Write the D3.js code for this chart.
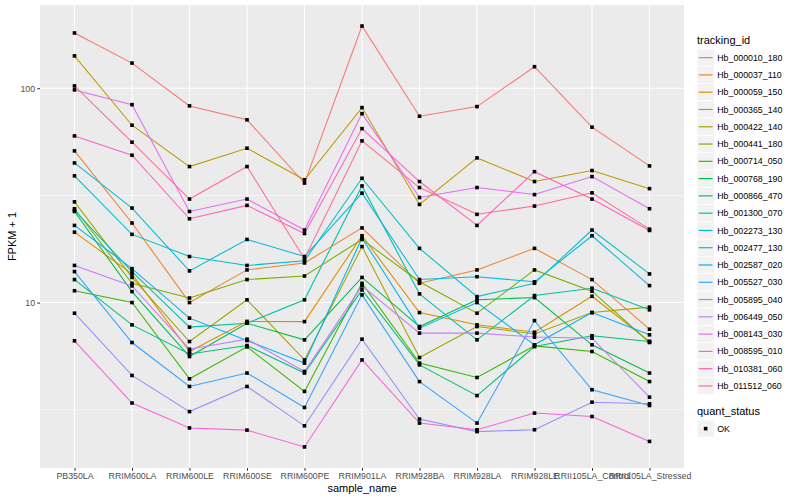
<!DOCTYPE html>
<html>
<head>
<meta charset="utf-8">
<script src="https://cdn.jsdelivr.net/npm/d3@7"></script>
<style>
  body { margin: 0; background: #fff; }
  text { font-family: "Liberation Sans", Arial, Helvetica, sans-serif; }
</style>
</head>
<body>
<svg id="chart" width="800" height="500"></svg>
<script>
// sample names on the x axis
const samples = ["PB350LA", "RRIM600LA", "RRIM600LE", "RRIM600SE", "RRIM600PE", "RRIM901LA",
                 "RRIM928BA", "RRIM928LA", "RRIM928LE", "RRII105LA_Control", "RRII105LA_Stressed"];

const trackingIds = ["Hb_000010_180", "Hb_000037_110", "Hb_000059_150", "Hb_000365_140", "Hb_000422_140",
                     "Hb_000441_180", "Hb_000714_050", "Hb_000768_190", "Hb_000866_470", "Hb_001300_070",
                     "Hb_002273_130", "Hb_002477_130", "Hb_002587_020", "Hb_005527_030", "Hb_005895_040",
                     "Hb_006449_050", "Hb_008143_030", "Hb_008595_010", "Hb_010381_060", "Hb_011512_060"];

// FPKM + 1, one value per sample
const hb_000010_180 = [181, 131, 82.7, 71.2, 36.1, 195, 74.0, 82.1, 126, 65.8, 43.4];
const hb_000037_110 = [51.0, 23.5, 10.0, 14.2, 15.3, 22.3, 12.3, 14.2, 17.9, 12.8, 7.51];
const hb_000059_150 = [21.3, 13.6, 5.91, 8.17, 8.15, 20.5, 8.98, 7.87, 7.27, 10.7, 6.58];
const hb_000365_140 = [141.5, 67.2, 43.1, 52.5, 37.4, 81.2, 28.7, 47.3, 36.7, 41.3, 34.0];
const hb_000422_140 = [29.5, 13.1, 6.58, 10.3, 5.40, 18.25, 5.54, 7.73, 7.14, 8.98, 9.52];
const hb_000441_180 = [27.4, 12.3, 10.5, 12.8, 13.3, 19.7, 12.5, 8.92, 14.2, 11.3, 6.51];
const hb_000714_050 = [11.35, 10.0, 4.41, 6.21, 3.85, 12.3, 5.22, 4.47, 6.28, 5.91, 4.28];
const hb_000768_190 = [26.6, 11.25, 5.60, 8.01, 6.70, 13.1, 7.73, 10.3, 10.55, 6.35, 4.69];
const hb_000866_470 = [12.8, 7.87, 5.76, 6.30, 4.69, 11.46, 5.12, 3.68, 6.23, 7.00, 6.58];
const hb_001300_070 = [26.9, 13.95, 7.68, 8.01, 10.3, 35.0, 10.98, 6.70, 10.78, 11.67, 9.25];
const hb_002273_130 = [39.0, 20.8, 16.4, 14.9, 15.65, 38.0, 17.9, 10.66, 12.3, 21.8, 13.6];
const hb_002477_130 = [44.8, 27.6, 14.05, 19.7, 16.4, 32.4, 12.8, 13.2, 12.5, 20.5, 12.0];
const hb_002587_020 = [22.9, 14.4, 8.46, 6.65, 5.22, 20.0, 7.60, 10.0, 6.35, 8.98, 7.07];
const hb_005527_030 = [13.95, 6.51, 4.06, 4.69, 3.24, 10.86, 4.28, 2.74, 8.24, 3.92, 3.31];
const hb_005895_040 = [8.92, 4.57, 3.10, 4.06, 2.66, 6.75, 2.86, 2.50, 2.55, 3.43, 3.37];
const hb_006449_050 = [14.9, 11.96, 6.06, 6.75, 4.77, 11.96, 7.20, 7.20, 6.90, 6.82, 3.62];
const hb_008143_030 = [98.2, 83.8, 26.6, 30.4, 21.8, 76.1, 30.9, 34.4, 31.9, 38.7, 27.4];
const hb_008595_010 = [6.63, 3.40, 2.60, 2.54, 2.12, 5.40, 2.74, 2.55, 3.05, 2.94, 2.25];
const hb_010381_060 = [59.9, 48.7, 24.6, 28.4, 21.0, 64.8, 36.7, 22.9, 40.8, 30.4, 21.7];
const hb_011512_060 = [102.5, 56.0, 30.4, 43.1, 16.0, 56.8, 34.4, 25.8, 28.2, 32.5, 22.0];

const yTicks = [10, 100];
const yMinorTicks = [Math.sqrt(10), Math.sqrt(1000), Math.sqrt(100000)];

// ggplot default hue palette for 20 groups
const palette = ["#F8766D", "#EA8331", "#D89000", "#C09B00", "#A3A500", "#7CAE00", "#39B600", "#00BB4E",
                 "#00BF7D", "#00C1A3", "#00BFC4", "#00BAE0", "#00B0F6", "#35A2FF", "#9590FF", "#C77CFF",
                 "#E76BF3", "#FA62DB", "#FF62BC", "#FF6C91"];

const seriesValues = [hb_000010_180, hb_000037_110, hb_000059_150, hb_000365_140, hb_000422_140,
                      hb_000441_180, hb_000714_050, hb_000768_190, hb_000866_470, hb_001300_070,
                      hb_002273_130, hb_002477_130, hb_002587_020, hb_005527_030, hb_005895_040,
                      hb_006449_050, hb_008143_030, hb_008595_010, hb_010381_060, hb_011512_060];

const series = trackingIds.map((id, i) => ({
  id: id,
  color: palette[i],
  values: seriesValues[i].map((v, j) => ({ sample: samples[j], value: v }))
}));

const svg = d3.select('#chart');

const panel = { left: 40, top: 5, right: 684, bottom: 468 };

const xScale = d3.scalePoint()
  .domain(samples)
  .range([panel.left, panel.right])
  .padding(0.6);

// log scale with ggplot-like 5% expansion
const allValues = seriesValues.flat();
const lo = Math.log10(d3.min(allValues));
const hi = Math.log10(d3.max(allValues));
const pad = (hi - lo) * 0.05;
const yScale = d3.scaleLog()
  .domain([Math.pow(10, lo - pad), Math.pow(10, hi + pad)])
  .range([panel.bottom, panel.top]);

// panel background
svg.append('rect')
  .attr('x', panel.left)
  .attr('y', panel.top)
  .attr('width', panel.right - panel.left)
  .attr('height', panel.bottom - panel.top)
  .attr('fill', '#EBEBEB');

const grid = svg.append('g');
grid.selectAll('.minor')
  .data(yMinorTicks.filter(d => yScale(d) > panel.top && yScale(d) < panel.bottom))
  .enter().append('line')
    .attr('x1', panel.left).attr('x2', panel.right)
    .attr('y1', d => yScale(d)).attr('y2', d => yScale(d))
    .attr('stroke', '#fff').attr('stroke-width', 0.55);
grid.selectAll('.major')
  .data(yTicks)
  .enter().append('line')
    .attr('x1', panel.left).attr('x2', panel.right)
    .attr('y1', d => yScale(d)).attr('y2', d => yScale(d))
    .attr('stroke', '#fff').attr('stroke-width', 1.1);
grid.selectAll('.vmajor')
  .data(samples)
  .enter().append('line')
    .attr('x1', d => xScale(d)).attr('x2', d => xScale(d))
    .attr('y1', panel.top).attr('y2', panel.bottom)
    .attr('stroke', '#fff').attr('stroke-width', 1.1);

// lines
const lineGenerator = d3.line()
  .x(d => xScale(d.sample))
  .y(d => yScale(d.value));

svg.append('g')
  .selectAll('path')
  .data(series)
  .enter().append('path')
    .attr('d', d => lineGenerator(d.values))
    .attr('fill', 'none')
    .attr('stroke', d => d.color)
    .attr('stroke-width', 1.05);

// points (quant_status = OK, square)
const pts = series.flatMap(s => s.values);
const ps = 3.6;
svg.append('g')
  .selectAll('rect')
  .data(pts)
  .enter().append('rect')
    .attr('x', d => xScale(d.sample) - ps / 2)
    .attr('y', d => yScale(d.value) - ps / 2)
    .attr('width', ps)
    .attr('height', ps)
    .attr('fill', '#000');

// axes
const xAxis = d3.axisBottom(xScale).tickSize(2.75).tickPadding(2.2);
const xAxisG = svg.append('g')
  .attr('transform', `translate(0,${panel.bottom})`)
  .call(xAxis);
xAxisG.select('.domain').remove();
xAxisG.selectAll('line').attr('stroke', '#333333').attr('stroke-width', 1.05);
xAxisG.selectAll('text')
  .attr('fill', '#4D4D4D')
  .style('font-size', '8.8px');

const yAxis = d3.axisLeft(yScale)
  .tickValues(yTicks)
  .tickFormat(d3.format('d'))
  .tickSize(2.75)
  .tickPadding(2.2);
const yAxisG = svg.append('g')
  .attr('transform', `translate(${panel.left},0)`)
  .call(yAxis);
yAxisG.select('.domain').remove();
yAxisG.selectAll('line').attr('stroke', '#333333').attr('stroke-width', 1.05);
yAxisG.selectAll('text')
  .attr('fill', '#4D4D4D')
  .style('font-size', '8.8px');

svg.append('text')
  .attr('x', (panel.left + panel.right) / 2)
  .attr('y', 492)
  .attr('text-anchor', 'middle')
  .style('font-size', '11px')
  .attr('fill', '#000')
  .text('sample_name');

svg.append('text')
  .attr('transform', `translate(16,${(panel.top + panel.bottom) / 2}) rotate(-90)`)
  .attr('text-anchor', 'middle')
  .style('font-size', '11px')
  .attr('fill', '#000')
  .text('FPKM + 1');

// legend: tracking_id
const keySize = 17.28;
const legendX = 697;
const legend = svg.append('g');

legend.append('text')
  .attr('x', legendX)
  .attr('y', 44)
  .style('font-size', '11px')
  .text('tracking_id');

const keys = legend.selectAll('.key')
  .data(series)
  .enter().append('g')
    .attr('transform', (d, i) => `translate(${legendX},${49 + i * keySize})`);

keys.append('rect')
  .attr('width', keySize)
  .attr('height', keySize)
  .attr('fill', '#F2F2F2')
  .attr('stroke', '#fff')
  .attr('stroke-width', 0.8);

keys.append('line')
  .attr('x1', 1.7).attr('x2', keySize - 1.7)
  .attr('y1', keySize / 2).attr('y2', keySize / 2)
  .attr('stroke', d => d.color)
  .attr('stroke-width', 1.2);

keys.append('text')
  .attr('x', keySize + 3)
  .attr('y', keySize / 2)
  .attr('dy', '0.35em')
  .style('font-size', '8.8px')
  .attr('fill', '#000')
  .text(d => d.id);

// legend: quant_status
legend.append('text')
  .attr('x', legendX)
  .attr('y', 415)
  .style('font-size', '11px')
  .text('quant_status');

const okKey = legend.append('g')
  .attr('transform', `translate(${legendX},420)`);
okKey.append('rect')
  .attr('width', keySize)
  .attr('height', keySize)
  .attr('fill', '#F2F2F2')
  .attr('stroke', '#fff')
  .attr('stroke-width', 0.8);
okKey.append('rect')
  .attr('x', keySize / 2 - ps / 2)
  .attr('y', keySize / 2 - ps / 2)
  .attr('width', ps)
  .attr('height', ps)
  .attr('fill', '#000');
okKey.append('text')
  .attr('x', keySize + 3)
  .attr('y', keySize / 2)
  .attr('dy', '0.35em')
  .style('font-size', '8.8px')
  .text('OK');
</script>
</body>
</html>
